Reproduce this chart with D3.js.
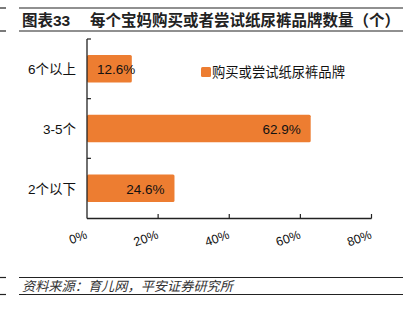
<!DOCTYPE html>
<html>
<head>
<meta charset="utf-8">
<script src="https://cdn.jsdelivr.net/npm/d3@7"></script>
<style>
  html, body { margin: 0; padding: 0; background: #fff; }
  svg { display: block; }
  text { font-family: "Liberation Sans", Arial, "Noto Sans CJK SC", sans-serif; }
</style>
</head>
<body>
<svg id="chart" width="417" height="324"></svg>
<script>
const categories = ["6个以上", "3-5个", "2个以下"];
const values = [12.6, 62.9, 24.6];
const valueLabels = ["12.6%", "62.9%", "24.6%"];
const xTicks = [0, 20, 40, 60, 80];
const xTickLabels = ["0%", "20%", "40%", "60%", "80%"];
const seriesName = "购买或尝试纸尿裤品牌";
const titleText = "图表33";
const subtitleText = "每个宝妈购买或者尝试纸尿裤品牌数量（个）";
const sourceText = "资料来源：育儿网，平安证券研究所";

const svg = d3.select("#chart");
const cjk = "\"Liberation Sans\", \"Noto Sans CJK SC\", sans-serif";
const orange = "#ED7D31";

// header lines
[8, 31].forEach(y => {
  svg.append("line").attr("x1", 0).attr("x2", 6).attr("y1", y).attr("y2", y).attr("stroke", "#222").attr("stroke-width", 1.2);
  svg.append("line").attr("x1", 19).attr("x2", 403).attr("y1", y).attr("y2", y).attr("stroke", "#222").attr("stroke-width", 1.2);
});
svg.append("text").attr("x", 22).attr("y", 26).attr("font-size", 15.5).attr("font-weight", "bold")
  .style("font-family", cjk).attr("fill", "#222").text(titleText);
svg.append("text").attr("x", 90).attr("y", 26).attr("font-size", 15.5).attr("font-weight", "bold")
  .style("font-family", cjk).attr("fill", "#222").text(subtitleText);

// scales
const x = d3.scaleLinear().domain([0, 80]).range([87, 371.5]);
const y = d3.scaleBand().domain(categories).range([39, 218]).paddingInner(0.54).paddingOuter(0.27);

// bars
svg.selectAll("rect.bar").data(categories).enter().append("rect")
  .attr("class", "bar")
  .attr("x", x(0))
  .attr("y", d => y(d))
  .attr("width", (d, i) => x(values[i]) - x(0))
  .attr("height", y.bandwidth())
  .attr("rx", 1.5)
  .attr("fill", orange);

// value labels
const vl = svg.selectAll("text.vl").data(categories).enter().append("text")
  .attr("class", "vl")
  .attr("font-size", 13.5)
  .attr("fill", "#111")
  .attr("dominant-baseline", "central")
  .attr("y", d => y(d) + y.bandwidth() / 2 + 1)
  .text((d, i) => valueLabels[i]);
vl.each(function(d, i) {
  const w = this.getComputedTextLength();
  let end = x(values[i]) - 10;
  if (end - w < x(0) + 10) end = x(0) + 10 + w;
  d3.select(this).attr("x", end).attr("text-anchor", "end");
});

// category labels
svg.selectAll("text.cat").data(categories).enter().append("text")
  .attr("class", "cat")
  .attr("x", 76)
  .attr("y", d => y(d) + y.bandwidth() / 2 + 1)
  .attr("text-anchor", "end")
  .attr("dominant-baseline", "central")
  .attr("font-size", 13.5)
  .style("font-family", cjk)
  .attr("fill", "#111")
  .text(d => d);

// y axis
const axisColor = "#222";
svg.append("line").attr("x1", x(0)).attr("x2", x(0)).attr("y1", 39).attr("y2", 218.5)
  .attr("stroke", axisColor).attr("stroke-width", 1.3);
const step = y.step();
const bounds = [0, 1, 2].map(i => y.range()[0] + i * step);
svg.selectAll("line.yt").data(bounds).enter().append("line")
  .attr("x1", x(0)).attr("x2", x(0) + 4).attr("y1", d => d).attr("y2", d => d)
  .attr("stroke", axisColor).attr("stroke-width", 1.2);

// x axis
svg.append("line").attr("x1", x(0)).attr("x2", x(80)).attr("y1", 218.5).attr("y2", 218.5)
  .attr("stroke", axisColor).attr("stroke-width", 1.3);
svg.selectAll("line.xt").data(xTicks.slice(1)).enter().append("line")
  .attr("x1", d => x(d)).attr("x2", d => x(d)).attr("y1", 218.5).attr("y2", 214)
  .attr("stroke", axisColor).attr("stroke-width", 1.2);
svg.selectAll("text.xl").data(xTicks).enter().append("text")
  .attr("class", "xl")
  .attr("text-anchor", "end")
  .attr("font-size", 12.5)
  .attr("fill", "#111")
  .attr("transform", d => `translate(${x(d) + 1},238) rotate(-20)`)
  .text((d, i) => xTickLabels[i]);

// legend
svg.append("rect").attr("x", 201).attr("y", 67).attr("width", 10).attr("height", 10).attr("rx", 1.5).attr("fill", orange);
svg.append("text").attr("x", 212).attr("y", 72.5).attr("dominant-baseline", "central")
  .attr("font-size", 13.3).style("font-family", cjk).attr("fill", "#111").text(seriesName);

// footer
[277.5, 294.5].forEach(y0 => {
  svg.append("line").attr("x1", 0).attr("x2", 6).attr("y1", y0).attr("y2", y0).attr("stroke", "#222").attr("stroke-width", 1.2);
  svg.append("line").attr("x1", 19).attr("x2", 403).attr("y1", y0).attr("y2", y0).attr("stroke", "#222").attr("stroke-width", 1.2);
});
svg.append("text").attr("x", 22).attr("y", 291).attr("font-size", 13.2)
  .style("font-family", cjk).style("font-style", "italic").attr("fill", "#333")
  .attr("transform", "translate(0,0)")
  .text(sourceText);
</script>
</body>
</html>
